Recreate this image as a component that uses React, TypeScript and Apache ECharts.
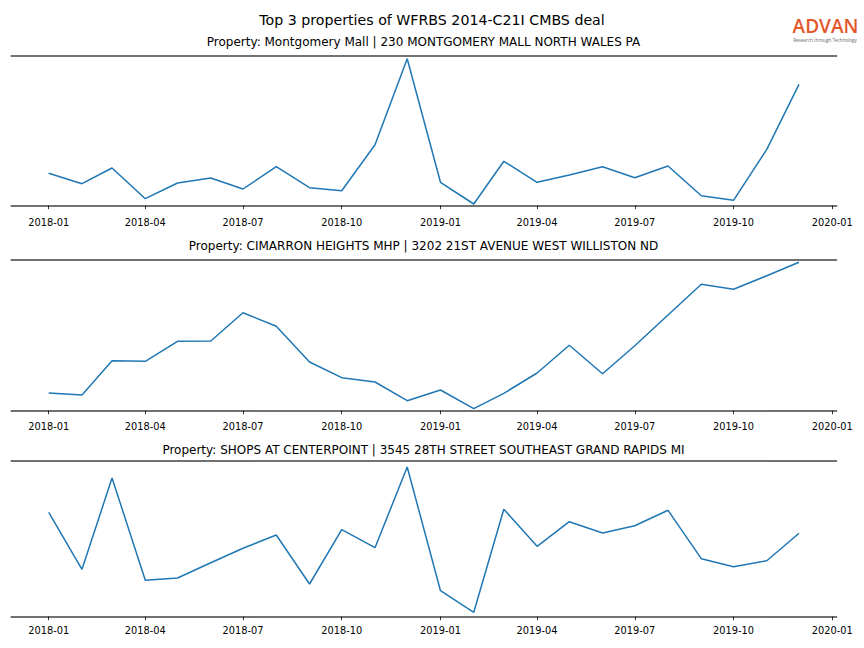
import React, { useEffect, useRef } from "react";
import * as echarts from "echarts";

const months = [
  "2018-01", "2018-02", "2018-03", "2018-04", "2018-05", "2018-06",
  "2018-07", "2018-08", "2018-09", "2018-10", "2018-11", "2018-12",
  "2019-01", "2019-02", "2019-03", "2019-04", "2019-05", "2019-06",
  "2019-07", "2019-08", "2019-09", "2019-10", "2019-11", "2019-12",
];
const tickLabels = [
  "2018-01", "2018-04", "2018-07", "2018-10", "2019-01",
  "2019-04", "2019-07", "2019-10", "2020-01",
];

const mainTitle = "Top 3 properties of WFRBS 2014-C21I CMBS deal";
const panelTitles = [
  "Property: Montgomery Mall | 230 MONTGOMERY MALL NORTH WALES PA",
  "Property: CIMARRON HEIGHTS MHP | 3202 21ST AVENUE WEST WILLISTON ND",
  "Property: SHOPS AT CENTERPOINT | 3545 28TH STREET SOUTHEAST GRAND RAPIDS MI",
];

// relative activity index (y axis unlabeled in the original)
const montgomery = [
  32.4, 22, 37.7, 7, 22.7, 27.7, 16.7, 39, 18, 15, 61, 147,
  23.4, 1.7, 44.4, 23.4, 30.7, 39, 28, 39.7, 10, 5.4, 56.4, 121.4,
];
const cimarron = [
  17.7, 15.7, 50, 49.4, 69.4, 69.7, 98, 84.4, 48.7, 33, 28.7, 10,
  20.7, 2, 17.4, 37.7, 65.4, 37, 65, 95.7, 126.4, 121.4, 135, 148.4,
];
const centerpoint = [
  104.4, 47.4, 138.7, 36.4, 38.7, 54, 68.4, 81.7, 32.7, 87, 69, 149.7,
  26, 4.4, 107.4, 70.4, 95, 83.7, 91, 106.4, 58, 50, 56, 83.4,
];
const seriesValues = [montgomery, cimarron, centerpoint];

const DAY = 86400000;
// day number since 2018-01-01
const toDay = (m: string) =>
  (Date.UTC(+m.slice(0, 4), +m.slice(5, 7) - 1, 1) - Date.UTC(2018, 0, 1)) / DAY;

export default function App() {
  const ref = useRef<HTMLDivElement>(null);
  useEffect(() => {
    if (!ref.current) return;
    const chart = echarts.init(ref.current, null, { renderer: "svg" });
    const font = "DejaVu Sans";
    const xMin = toDay(months[0]) - 34.95;
    const xMax = toDay(months[months.length - 1]) + 34.95;
    const tickVals = tickLabels.map(toDay);
    const fmt = (v: number) => {
      const idx = tickVals.findIndex((t) => Math.abs(t - v) < 0.5);
      return idx >= 0 ? tickLabels[idx] : "";
    };
    const panels = [
      { top: 55.7, height: 150, tickOffset: 6.5, titleY: 42 },
      { top: 259.7, height: 151, tickOffset: 6, titleY: 246 },
      { top: 460.7, height: 156, tickOffset: 3.4, titleY: 450 },
    ];
    const grid: any[] = [];
    const xAxis: any[] = [];
    const yAxis: any[] = [];
    const series: any[] = [];
    const spine = { color: "#444444", width: 1.6 };
    panels.forEach((p, i) => {
      grid.push({ left: 11.2, right: 27.5, top: p.top, height: p.height });
      const base = {
        type: "value",
        gridIndex: i,
        min: xMin,
        max: xMax,
        splitLine: { show: false },
      };
      xAxis.push({
        ...base,
        position: "bottom",
        offset: p.tickOffset,
        axisLine: { show: false },
        axisTick: {
          show: true,
          length: 3.5,
          customValues: tickVals,
          lineStyle: { color: "#000", width: 0.8 },
        },
        axisLabel: {
          show: true,
          customValues: tickVals,
          formatter: (v: number) => fmt(v),
          fontFamily: font,
          fontSize: 9.8,
          color: "#000",
          margin: 5,
          showMinLabel: true,
          showMaxLabel: true,
        },
      });
      xAxis.push({
        ...base,
        position: "bottom",
        axisLine: { show: true, lineStyle: spine },
        axisTick: { show: false },
        axisLabel: { show: false },
      });
      xAxis.push({
        ...base,
        position: "top",
        axisLine: { show: true, lineStyle: spine },
        axisTick: { show: false },
        axisLabel: { show: false },
      });
      yAxis.push({
        type: "value",
        gridIndex: i,
        min: 0,
        max: p.height,
        show: false,
        splitLine: { show: false },
      });
      series.push({
        type: "line",
        xAxisIndex: i * 3,
        yAxisIndex: i,
        data: months.map((m, k) => [toDay(m), seriesValues[i][k]]),
        showSymbol: false,
        symbol: "none",
        lineStyle: { color: "#1f77b4", width: 1.5 },
        itemStyle: { color: "#1f77b4" },
        z: 1,
      });
    });

    const graphic: any[] = [
      {
        type: "text",
        x: 432,
        y: 20,
        style: {
          text: mainTitle,
          fontFamily: font,
          fontSize: 14.2,
          fill: "#000",
          textAlign: "center",
          textVerticalAlign: "middle",
        },
      },
      ...panels.map((p, i) => ({
        type: "text",
        x: 423.5,
        y: p.titleY,
        style: {
          text: panelTitles[i],
          fontFamily: font,
          fontSize: 12,
          fill: "#000",
          textAlign: "center",
          textVerticalAlign: "middle",
        },
      })),
      {
        type: "text",
        x: 825.5,
        y: 26,
        style: {
          text: "ADVAN",
          fontFamily: "Open Sans",
          fontWeight: 600,
          fontSize: 19,
          lineHeight: 14,
          fill: "#e3572b",
          textAlign: "center",
          textVerticalAlign: "middle",
        },
      },
      {
        type: "text",
        x: 825,
        y: 39.8,
        style: {
          text: "Research through Technology",
          fontFamily: "Open Sans",
          fontSize: 4.6,
          lineHeight: 5,
          fill: "#666",
          textAlign: "center",
          textVerticalAlign: "middle",
        },
      },
    ];

    chart.setOption({
      animation: false,
      backgroundColor: "#ffffff",
      grid,
      xAxis,
      yAxis,
      series,
      graphic,
    });
    return () => chart.dispose();
  }, []);
  return (
    <div
      ref={ref}
      style={{ position: "fixed", left: 0, top: 0, width: 864, height: 648 }}
    />
  );
}
